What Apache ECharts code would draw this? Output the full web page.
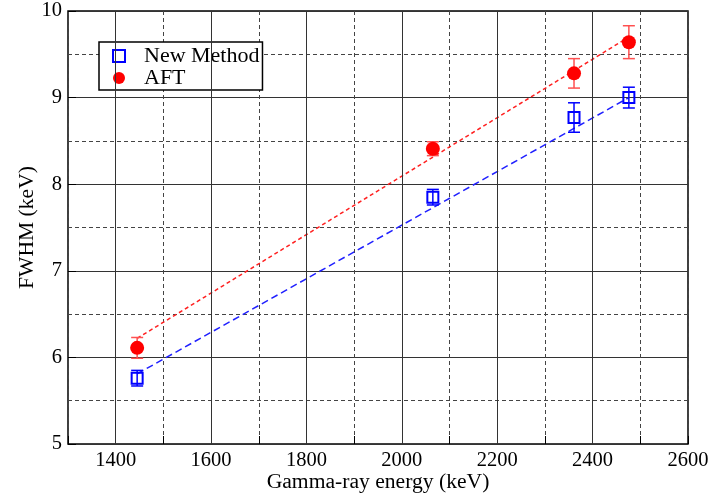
<!DOCTYPE html>
<html><head><meta charset="utf-8">
<script src="https://cdn.jsdelivr.net/npm/echarts@6/dist/echarts.min.js"></script>
<style>html,body{margin:0;padding:0;background:#fff}#c{width:717px;height:493px}</style>
</head><body><div id="c"></div>
<script>
var energies = [1445, 2065, 2361, 2476];
var newMethod = [5.76, 7.85, 8.77, 9.00];
var newMethodErr = [0.09, 0.09, 0.17, 0.12];
var aft = [6.11, 8.41, 9.28, 9.64];
var aftErr = [0.12, 0.08, 0.17, 0.19];
var fitX = [1445, 2476];
var fitNew = [5.81, 9.00];
var fitAft = [6.22, 9.70];
var xMajor = [1400, 1600, 1800, 2000, 2200, 2400];

var serif = 'Liberation Serif';
function pts(xs, ys){ return xs.map(function(x,i){return [x, ys[i]];}); }
function errs(xs, ys, es){ return xs.map(function(x,i){return [x, ys[i]-es[i], ys[i]+es[i]];}); }
function errSeries(name, data, color){
  return {
    type:'custom', name:name+' err', data:data, silent:true, z:3,
    renderItem:function(params, api){
      var lo = api.coord([api.value(0), api.value(1)]);
      var hi = api.coord([api.value(0), api.value(2)]);
      var w = 6;
      var st = {stroke:color, lineWidth:1.5};
      return {type:'group', children:[
        {type:'line', shape:{x1:lo[0],y1:lo[1],x2:hi[0],y2:hi[1]}, style:st},
        {type:'line', shape:{x1:lo[0]-w,y1:lo[1],x2:lo[0]+w,y2:lo[1]}, style:st},
        {type:'line', shape:{x1:hi[0]-w,y1:hi[1],x2:hi[0]+w,y2:hi[1]}, style:st}
      ]};
    }
  };
}
var chart = echarts.init(document.getElementById('c'), null, {renderer:'canvas'});
chart.setOption({
  animation:false,
  backgroundColor:'#fff',
  grid:{left:68, right:29, top:11, bottom:49, containLabel:false, outerBoundsMode:'none',
        show:true, borderColor:'#000', borderWidth:1.5, backgroundColor:'transparent'},
  legend:{
    orient:'vertical', left:99, top:42, padding:[3,3,1,13], itemGap:0,
    borderColor:'#000', borderWidth:1.5, backgroundColor:'#fff',
    itemWidth:12, itemHeight:12,
    textStyle:{fontFamily:serif, fontSize:22, lineHeight:20, color:'#000', padding:[0,0,0,14]},
    data:[{name:'New Method', icon:'rect'}, {name:'AFT', icon:'circle'}]
  },
  xAxis:{
    type:'value', min:1300, max:2600, interval:100,
    name:'Gamma-ray energy (keV)', nameLocation:'middle', nameGap:27, nameMoveOverlap:false,
    nameTextStyle:{fontFamily:serif, fontSize:21.6, color:'#000', verticalAlign:'top'},
    axisLine:{show:false},
    axisTick:{show:true, inside:true, length:8, lineStyle:{color:'#000'}, interval:function(i,v){return v%200===0;}},
    axisLabel:{fontFamily:serif, fontSize:20.5, color:'#000', margin:6, formatter:function(v){return v%200===0 && v>1300 ? String(v) : '';}},
    splitLine:{show:true, lineStyle:{color:'#444', type:[4,3], width:1}}
  },
  yAxis:{
    type:'value', min:5, max:10, interval:1,
    name:'FWHM (keV)', nameLocation:'middle', nameGap:30, nameRotate:90, nameMoveOverlap:false,
    nameTextStyle:{fontFamily:serif, fontSize:21.6, color:'#000', verticalAlign:'bottom'},
    axisLine:{show:false},
    axisTick:{show:true, inside:true, length:8, lineStyle:{color:'#000'}},
    axisLabel:{fontFamily:serif, fontSize:20.5, color:'#000', margin:6},
    splitLine:{show:true, lineStyle:{color:'#333', width:1}},
    minorTick:{show:false, splitNumber:2},
    minorSplitLine:{show:true, lineStyle:{color:'#444', type:[4,3], width:1}}
  },
  series:[
    {type:'line', name:'fitAft', data:pts(fitX, fitAft), symbol:'none', silent:true, z:2,
     lineStyle:{color:'#ff2020', width:1.5, type:[4,3]},
     markLine:{silent:true, symbol:'none', label:{show:false}, animation:false,
       lineStyle:{color:'#333', type:'solid', width:1},
       data: xMajor.map(function(v){return {xAxis:v};})}
    },
    {type:'line', name:'fitNew', data:pts(fitX, fitNew), symbol:'none', silent:true, z:2,
     lineStyle:{color:'#2020ff', width:1.5, type:[7,4]}},
    errSeries('New Method', errs(energies, newMethod, newMethodErr), '#0000ff'),
    errSeries('AFT', errs(energies, aft, aftErr), '#ff5050'),
    {type:'scatter', name:'New Method', data:pts(energies, newMethod), symbol:'rect', symbolSize:11, z:4,
     itemStyle:{color:'rgba(0,0,0,0)', borderColor:'#0000ff', borderWidth:2, opacity:1}},
    {type:'scatter', name:'AFT', data:pts(energies, aft), symbol:'circle', symbolSize:14, z:4,
     itemStyle:{color:'#ff0000', opacity:1}}
  ]
});
</script></body></html>
